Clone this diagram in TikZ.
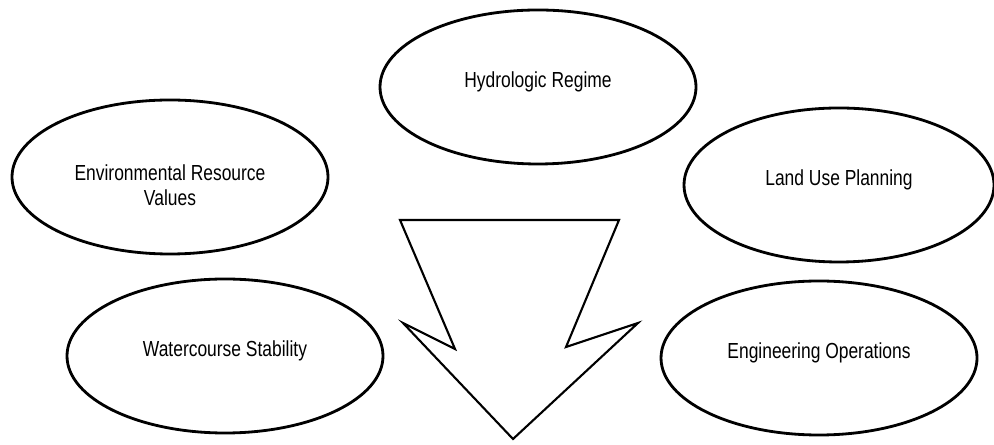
\documentclass[tikz,border=0pt]{standalone}
\usepackage{fontspec}
\setmainfont{Liberation Sans}[FakeStretch=0.8]
\usetikzlibrary{shapes.geometric}
\begin{document}
\begin{tikzpicture}[
		blob/.style={draw, line width=0.8pt, ellipse, inner sep=0pt, minimum width=3.16cm, minimum height=1.54cm},
		txt/.style={align=center, yshift=0.05cm, font=\fontsize{6.2}{7}\selectfont}
	]
	    \useasboundingbox (0,0) rectangle (9.94,4.45);

	    \node[blob, label={[txt]center:Hydrologic Regime}] (hydro) at (5.38,3.58) {};
	    \node[blob, label={[txt, yshift=-0.13cm]center:Environmental Resource\\Values}] (envres) at (1.70,2.68) {};
	    \node[blob, minimum width=3.10cm, label={[txt]center:Land Use Planning}] (landuse) at (8.39,2.60) {};
	    \node[blob, label={[txt]center:Watercourse Stability}] (stab) at (2.25,0.89) {};
	    \node[blob, label={[txt]center:Engineering Operations}] (engops) at (8.19,0.87) {};

	    \draw[line width=0.6pt] (4.00,2.25) -- (6.19,2.25) -- (5.66,0.98) -- (6.38,1.22) -- (5.13,0.06) -- (4.03,1.22) -- (4.55,0.96) -- cycle;
	\end{tikzpicture}
\end{document}
